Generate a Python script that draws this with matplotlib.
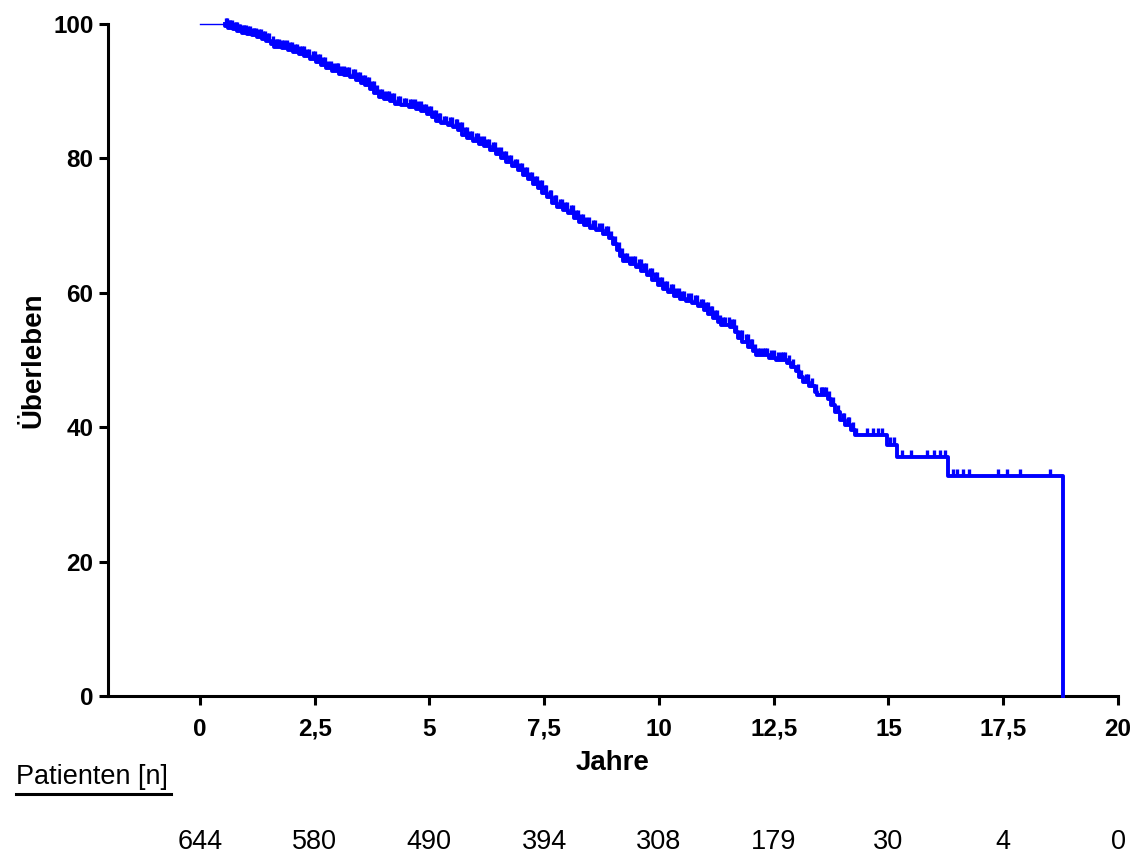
import numpy as np
import matplotlib
matplotlib.use("Agg")
import matplotlib.pyplot as plt
from matplotlib.lines import Line2D
from matplotlib.transforms import blended_transform_factory

plt.rcParams['font.family'] = ['Liberation Sans', 'DejaVu Sans']

# Kaplan-Meier step curve: time (years) at which survival drops, survival (%) after the drop
step_times = [
    0.00, 0.55, 0.62, 0.72, 0.82, 0.92, 1.02, 1.13, 1.24, 1.35, 1.45, 1.55, 1.62,
    1.78, 1.92, 2.03, 2.16, 2.28, 2.40, 2.52, 2.64, 2.75, 2.88, 3.03, 3.15, 3.28,
    3.40, 3.50, 3.60, 3.70, 3.80, 3.90, 4.02, 4.14, 4.26, 4.38, 4.55, 4.70, 4.82,
    4.95, 5.05, 5.15, 5.25, 5.40, 5.52, 5.62, 5.72, 5.82, 5.95, 6.08, 6.20, 6.32,
    6.45, 6.56, 6.68, 6.80, 6.92, 7.03, 7.14, 7.25, 7.36, 7.46, 7.57, 7.68, 7.78,
    7.90, 8.02, 8.14, 8.25, 8.36, 8.50, 8.64, 8.78, 8.92, 9.00, 9.08, 9.15, 9.22,
    9.36, 9.50, 9.62, 9.75, 9.86, 9.97, 10.08, 10.20, 10.32, 10.45, 10.58, 10.72,
    10.86, 10.98, 11.08, 11.18, 11.28, 11.36, 11.55, 11.65, 11.72, 11.82, 11.95,
    12.05, 12.12, 12.40, 12.55, 12.78, 12.88, 12.98, 13.06, 13.14, 13.28, 13.40,
    13.45, 13.68, 13.74, 13.84, 13.94, 14.05, 14.18, 14.28, 14.96, 15.18, 16.30,
    18.80,
]
step_surv = [
    100.0, 99.7, 99.4, 99.2, 98.9, 98.7, 98.5, 98.3, 98.1, 97.8, 97.5, 97.0, 96.6,
    96.5, 96.2, 95.9, 95.6, 95.2, 94.8, 94.4, 93.9, 93.4, 93.0, 92.6, 92.4, 92.1,
    91.7, 91.2, 90.9, 90.4, 89.8, 89.2, 88.9, 88.6, 88.1, 87.9, 87.7, 87.4, 87.0,
    86.6, 86.1, 85.6, 85.2, 85.0, 84.7, 84.2, 83.5, 83.0, 82.6, 82.2, 81.8, 81.3,
    80.6, 80.0, 79.4, 78.8, 78.2, 77.6, 76.9, 76.2, 75.6, 74.9, 74.2, 73.4, 72.8,
    72.3, 71.9, 71.2, 70.6, 70.1, 69.7, 69.3, 68.8, 68.1, 67.3, 66.4, 65.5, 64.7,
    64.3, 63.9, 63.3, 62.6, 61.9, 61.2, 60.6, 60.1, 59.5, 59.1, 58.8, 58.5,
    58.0, 57.5, 56.9, 56.3, 55.6, 55.2, 54.9, 54.1, 53.3, 52.7, 52.0,
    51.3, 50.7, 50.3, 50.0, 49.6, 49.0, 48.3, 47.4, 46.8, 46.2, 45.3,
    44.8, 44.2, 43.3, 42.2, 41.0, 40.3, 39.6, 38.8, 37.4, 35.5, 32.7,
    0.0,
]

# Censored observations (years)
censor_times = [
    0.58, 0.60, 0.64, 0.66, 0.70, 0.75, 0.78, 0.81, 0.85, 0.88, 0.93, 0.97, 1.01,
    1.05, 1.10, 1.15, 1.19, 1.23, 1.28, 1.33, 1.37, 1.41, 1.47, 1.50, 1.59, 1.66,
    1.69, 1.72, 1.80, 1.84, 1.90, 1.97, 2.01, 2.07, 2.12, 2.18, 2.22, 2.27, 2.33,
    2.38, 2.46, 2.50, 2.57, 2.61, 2.69, 2.73, 2.80, 2.86, 2.92, 2.98, 3.01, 3.08,
    3.13, 3.20, 3.25, 3.33, 3.38, 3.44, 3.48, 3.55, 3.59, 3.64, 3.68, 3.75, 3.79,
    3.86, 3.92, 3.96, 4.02, 4.07, 4.12, 4.19, 4.24, 4.31, 4.37, 4.44, 4.50, 4.57,
    4.62, 4.68, 4.76, 4.81, 4.88, 4.93, 5.00, 5.03, 5.10, 5.14, 5.20, 5.24, 5.31,
    5.37, 5.45, 5.50, 5.57, 5.61, 5.67, 5.70, 5.77, 5.81, 5.89, 5.93, 6.01, 6.06,
    6.13, 6.18, 6.26, 6.30, 6.38, 6.43, 6.50, 6.55, 6.62, 6.66, 6.74, 6.78, 6.86,
    6.90, 6.98, 7.01, 7.09, 7.12, 7.20, 7.23, 7.31, 7.34, 7.41, 7.45, 7.52, 7.55,
    7.63, 7.66, 7.73, 7.76, 7.85, 7.88, 7.96, 8.00, 8.08, 8.12, 8.19, 8.23, 8.30,
    8.34, 8.42, 8.47, 8.57, 8.61, 8.70, 8.75, 8.84, 8.89, 8.96, 9.04, 9.12, 9.19,
    9.26, 9.30, 9.38, 9.43, 9.48, 9.56, 9.60, 9.68, 9.72, 9.80, 9.84, 9.91, 9.95,
    10.02, 10.06, 10.14, 10.18, 10.26, 10.30, 10.38, 10.43, 10.51, 10.55, 10.64,
    10.69, 10.78, 10.83, 10.92, 10.96, 11.03, 11.06, 11.13, 11.16, 11.23, 11.26,
    11.32, 11.40, 11.45, 11.52, 11.60, 11.63, 11.69, 11.77, 11.80, 11.89, 11.93,
    12.00, 12.03, 12.09, 12.15, 12.20, 12.26, 12.30, 12.36, 12.45, 12.50, 12.60,
    12.65, 12.70, 12.75, 12.83, 12.93, 13.02, 13.10, 13.21, 13.25, 13.34, 13.43,
    13.52, 13.56, 13.60, 13.65, 13.70, 13.79, 13.90, 14.00, 14.03, 14.12, 14.15,
    14.22, 14.30, 14.53, 14.66, 14.77, 14.87, 15.03, 15.12, 15.30, 15.50, 15.85,
    16.00, 16.12, 16.23, 16.40, 16.50, 16.62, 16.75, 17.38, 17.58, 17.86, 18.52,
]

# Number at risk
risk_times = [0, 2.5, 5, 7.5, 10, 12.5, 15, 17.5, 20]
risk_counts = [644, 580, 490, 394, 308, 179, 30, 4, 0]

x_ticks = [0, 2.5, 5, 7.5, 10, 12.5, 15, 17.5, 20]
x_ticklabels = ['0', '2,5', '5', '7,5', '10', '12,5', '15', '17,5', '20']
y_ticks = [0, 20, 40, 60, 80, 100]

W, H = 1137, 855
fig = plt.figure(figsize=(W / 100, H / 100), dpi=100)
ax = fig.add_axes([108 / W, 1 - 696 / H, (1118 - 108) / W, (696 - 24) / H])

blue = '#0000ff'
t = np.asarray(step_times)
s = np.asarray(step_surv)

# initial segment before the first event
ax.plot(t[:2], [s[0], s[0]], color=blue, lw=1.0, clip_on=False, zorder=3)
# main step curve from the first event on
ax.step(np.r_[t[1], t[1:]], np.r_[s[0], s[1:]], where='post',
        color=blue, lw=2.8, clip_on=False, zorder=3)

# censor ticks
ct = np.asarray(censor_times)
idx = np.searchsorted(t, ct, side='right') - 1
cs = s[idx]
ax.vlines(ct, cs, cs + 1.15, color=blue, lw=2.4, zorder=3, clip_on=False)

ax.set_xlim(-2, 20)
ax.set_ylim(0, 100)
for side in ('top', 'right'):
    ax.spines[side].set_visible(False)
for side in ('left', 'bottom'):
    ax.spines[side].set_linewidth(2.2)
    ax.spines[side].set_capstyle('projecting')

ax.set_xticks(x_ticks, x_ticklabels, fontweight='bold')
ax.set_yticks(y_ticks, [str(v) for v in y_ticks], fontweight='bold')
ax.tick_params(axis='both', direction='out', length=6.5, width=2.2, labelsize=17.5)
ax.tick_params(axis='x', pad=9)
ax.tick_params(axis='y', pad=4)

ax.set_xlabel('Jahre', fontsize=20, fontweight='bold')
ax.xaxis.set_label_coords(0.5, (696 - 762.5) / 672)
ax.xaxis.label.set_va('center')
ax.set_ylabel('Überleben', fontsize=20, fontweight='bold')
ax.yaxis.set_label_coords((33 - 108) / 1010, 0.5)
ax.yaxis.label.set_va('center')

# number-at-risk table
fig.text(16 / W, 1 - 784 / H, 'Patienten [n]', fontsize=19.5, ha='left', va='baseline')
fig.add_artist(Line2D([16 / W, 171 / W], [1 - 793.5 / H] * 2, color='black', lw=2.2,
                      transform=fig.transFigure))
trans = blended_transform_factory(ax.transData, fig.transFigure)
for rt, rc in zip(risk_times, risk_counts):
    ax.text(rt, 1 - 849 / H, str(rc), transform=trans, fontsize=19.5,
            ha='center', va='baseline', clip_on=False)

fig.savefig('out.png', dpi=100)
